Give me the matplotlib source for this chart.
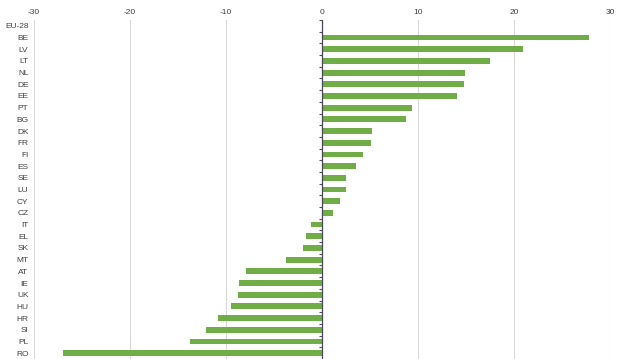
import matplotlib
matplotlib.use("Agg")
import matplotlib.pyplot as plt
import numpy as np

plt.rcParams['font.family'] = ['Liberation Sans', 'DejaVu Sans']

countries = ["EU-28", "BE", "LV", "LT", "NL", "DE", "EE", "PT", "BG", "DK", "FR", "FI",
             "ES", "SE", "LU", "CY", "CZ", "IT", "EL", "SK", "MT", "AT", "IE", "UK",
             "HU", "HR", "SI", "PL", "RO"]
values = [0.0, 27.8, 20.9, 17.5, 14.9, 14.8, 14.1, 9.4, 8.7, 5.2, 5.1, 4.3,
          3.5, 2.5, 2.5, 1.9, 1.1, -1.1, -1.7, -2.0, -3.7, -7.9, -8.6, -8.75,
          -9.5, -10.8, -12.1, -13.7, -27.0]
xticks = [-30, -20, -10, 0, 10, 20, 30]

fig = plt.figure(figsize=(6.24, 3.59), dpi=100)
ax = fig.add_axes([34/624, 0.0, (610-34)/624, 1 - 20/359])

y = np.arange(len(countries))
ax.barh(y, values, height=0.5, color="#70AD47", zorder=3)

ax.set_xlim(-30, 30)
ax.set_ylim(len(countries) - 0.5, -0.5)
ax.set_xticks(xticks)
ax.set_xticklabels([str(v) for v in xticks])
ax.xaxis.tick_top()
ax.tick_params(axis='x', length=0, pad=3, labelsize=6, labelcolor="#404040")
ax.set_yticks(y)
ax.set_yticklabels(countries)
ax.tick_params(axis='y', length=0, pad=4, labelsize=6, labelcolor="#404040")

ax.grid(axis='x', color="#d9d9d9", linewidth=0.8, zorder=0)
ax.grid(axis='y', visible=False)
for s in ax.spines.values():
    s.set_visible(False)

# zero axis line with category tick marks
ax.axvline(0, color="#4a4a5a", linewidth=0.9, zorder=4)
bounds = np.arange(len(countries) + 1) - 0.5
ax.hlines(bounds, -0.35, 0, color="#4a4a5a", linewidth=0.8, zorder=4)

fig.savefig("out.png", dpi=100)
